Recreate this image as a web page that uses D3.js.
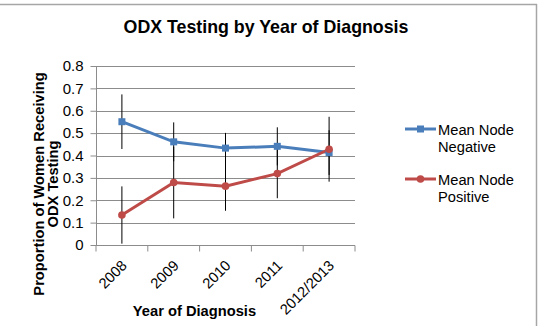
<!DOCTYPE html>
<html><head><meta charset="utf-8">
<script src="https://cdn.jsdelivr.net/npm/d3@7"></script>
<style>body{margin:0;background:#fff}svg{display:block;font-family:"Liberation Sans",Arial,sans-serif}</style>
</head><body><svg id="c" width="540" height="326"></svg>
<script>
const categories = ["2008","2009","2010","2011","2012/2013"];
const negValues = [0.551, 0.461, 0.433, 0.441, 0.413];
const negErr = [0.122, 0.087, 0.068, 0.085, 0.10];
const posValues = [0.134, 0.279, 0.263, 0.319, 0.428];
const posErr = [0.128, 0.16, 0.11, 0.11, 0.145];
const yTicks = [0,0.1,0.2,0.3,0.4,0.5,0.6,0.7,0.8];
const seriesNames = ["Mean Node Negative","Mean Node Positive"];

const svg = d3.select("#c");
const L=96,R=355,T=66,B=245;
const x = d3.scaleBand().domain(categories).range([L,R]);
const y = d3.scaleLinear().domain([0,0.8]).range([B,T]);
const FS = 14.7;

// chart border
svg.append("line").attr("x1",0).attr("x2",537).attr("y1",4.5).attr("y2",4.5).attr("stroke","#a6a6a6").attr("stroke-width",1.5);
svg.append("line").attr("x1",536.5).attr("x2",536.5).attr("y1",4).attr("y2",326).attr("stroke","#a6a6a6").attr("stroke-width",1.5);

// gridlines
svg.append("g").selectAll("line").data(yTicks.slice(1)).join("line")
  .attr("x1",L).attr("x2",R).attr("y1",d=>Math.round(y(d))+0.5).attr("y2",d=>Math.round(y(d))+0.5)
  .attr("stroke","#8c8c8c").attr("stroke-width",1);

// y axis
const ya = svg.append("g").attr("transform",`translate(${L+0.5},0)`)
  .call(d3.axisLeft(y).tickValues(yTicks).tickSize(6).tickPadding(7).tickFormat(d=>d===0?"0":d3.format(".1f")(d)));
ya.select(".domain").attr("stroke","#8c8c8c").attr("d",`M-0,${T}V${B}`);
ya.selectAll(".tick line").attr("stroke","#8c8c8c");
ya.selectAll(".tick text").attr("font-size",15).attr("fill","#000").attr("font-family","Liberation Sans, Arial, sans-serif");

// x axis
const xa = svg.append("g").attr("transform",`translate(0,${B+0.5})`);
xa.append("line").attr("x1",L).attr("x2",R).attr("stroke","#8c8c8c");
const edges = categories.map(c=>x(c)).concat([R]);
xa.selectAll("line.t").data(edges).join("line").attr("class","t")
  .attr("x1",d=>d).attr("x2",d=>d).attr("y1",0).attr("y2",6).attr("stroke","#8c8c8c");
xa.selectAll("text").data(categories).join("text")
  .attr("transform",d=>`translate(${x(d)+x.bandwidth()/2+6},${21}) rotate(-45)`)
  .attr("text-anchor","end").attr("font-size",FS).text(d=>d);

// error bars
function errBars(vals, errs){
  svg.append("g").selectAll("line").data(vals).join("line")
    .attr("x1",(d,i)=>x(categories[i])+x.bandwidth()/2).attr("x2",(d,i)=>x(categories[i])+x.bandwidth()/2)
    .attr("y1",(d,i)=>y(d+errs[i])).attr("y2",(d,i)=>y(Math.max(0,d-errs[i])))
    .attr("stroke","#000").attr("stroke-width",1);
}
const line = d3.line().x((d,i)=>x(categories[i])+x.bandwidth()/2).y(d=>y(d));
const blue="#4a7ebb", red="#be4b48";
svg.append("path").datum(negValues).attr("d",line).attr("fill","none").attr("stroke",blue).attr("stroke-width",3);
svg.append("path").datum(posValues).attr("d",line).attr("fill","none").attr("stroke",red).attr("stroke-width",3);
errBars(negValues,negErr);
errBars(posValues,posErr);
svg.append("g").selectAll("rect").data(negValues).join("rect")
  .attr("x",(d,i)=>x(categories[i])+x.bandwidth()/2-3.5).attr("y",d=>y(d)-3.5)
  .attr("width",7).attr("height",7).attr("fill",blue);
svg.append("g").selectAll("circle").data(posValues).join("circle")
  .attr("cx",(d,i)=>x(categories[i])+x.bandwidth()/2).attr("cy",d=>y(d)).attr("r",3.8).attr("fill",red);

// title
svg.append("text").attr("x",266).attr("y",33).attr("text-anchor","middle").attr("font-size",17.8).attr("font-weight","bold").text("ODX Testing by Year of Diagnosis");
// y title
const yt = svg.append("text").attr("transform","translate(44,184) rotate(-90)").attr("text-anchor","middle").attr("font-size",FS).attr("font-weight","bold");
yt.append("tspan").attr("x",0).attr("y",0).text("Proportion of Women Receiving");
yt.append("tspan").attr("x",0).attr("y",14).text("ODX Testing");
// x title
svg.append("text").attr("x",194.5).attr("y",316).attr("text-anchor","middle").attr("font-size",FS).attr("font-weight","bold").text("Year of Diagnosis");

// legend
const leg = svg.append("g");
[[blue,"Mean Node","Negative",129,"rect"],[red,"Mean Node","Positive",179,"circle"]].forEach(([c,a,b,yy,m])=>{
  leg.append("line").attr("x1",405).attr("x2",436).attr("y1",yy).attr("y2",yy).attr("stroke",c).attr("stroke-width",3);
  if(m==="rect") leg.append("rect").attr("x",417).attr("y",yy-3.5).attr("width",7).attr("height",7).attr("fill",c);
  else leg.append("circle").attr("cx",420.5).attr("cy",yy).attr("r",3.8).attr("fill",c);
  const t = leg.append("text").attr("font-size",FS);
  t.append("tspan").attr("x",438).attr("y",yy+6).text(a);
  t.append("tspan").attr("x",438).attr("y",yy+23).text(b);
});
</script></body></html>
